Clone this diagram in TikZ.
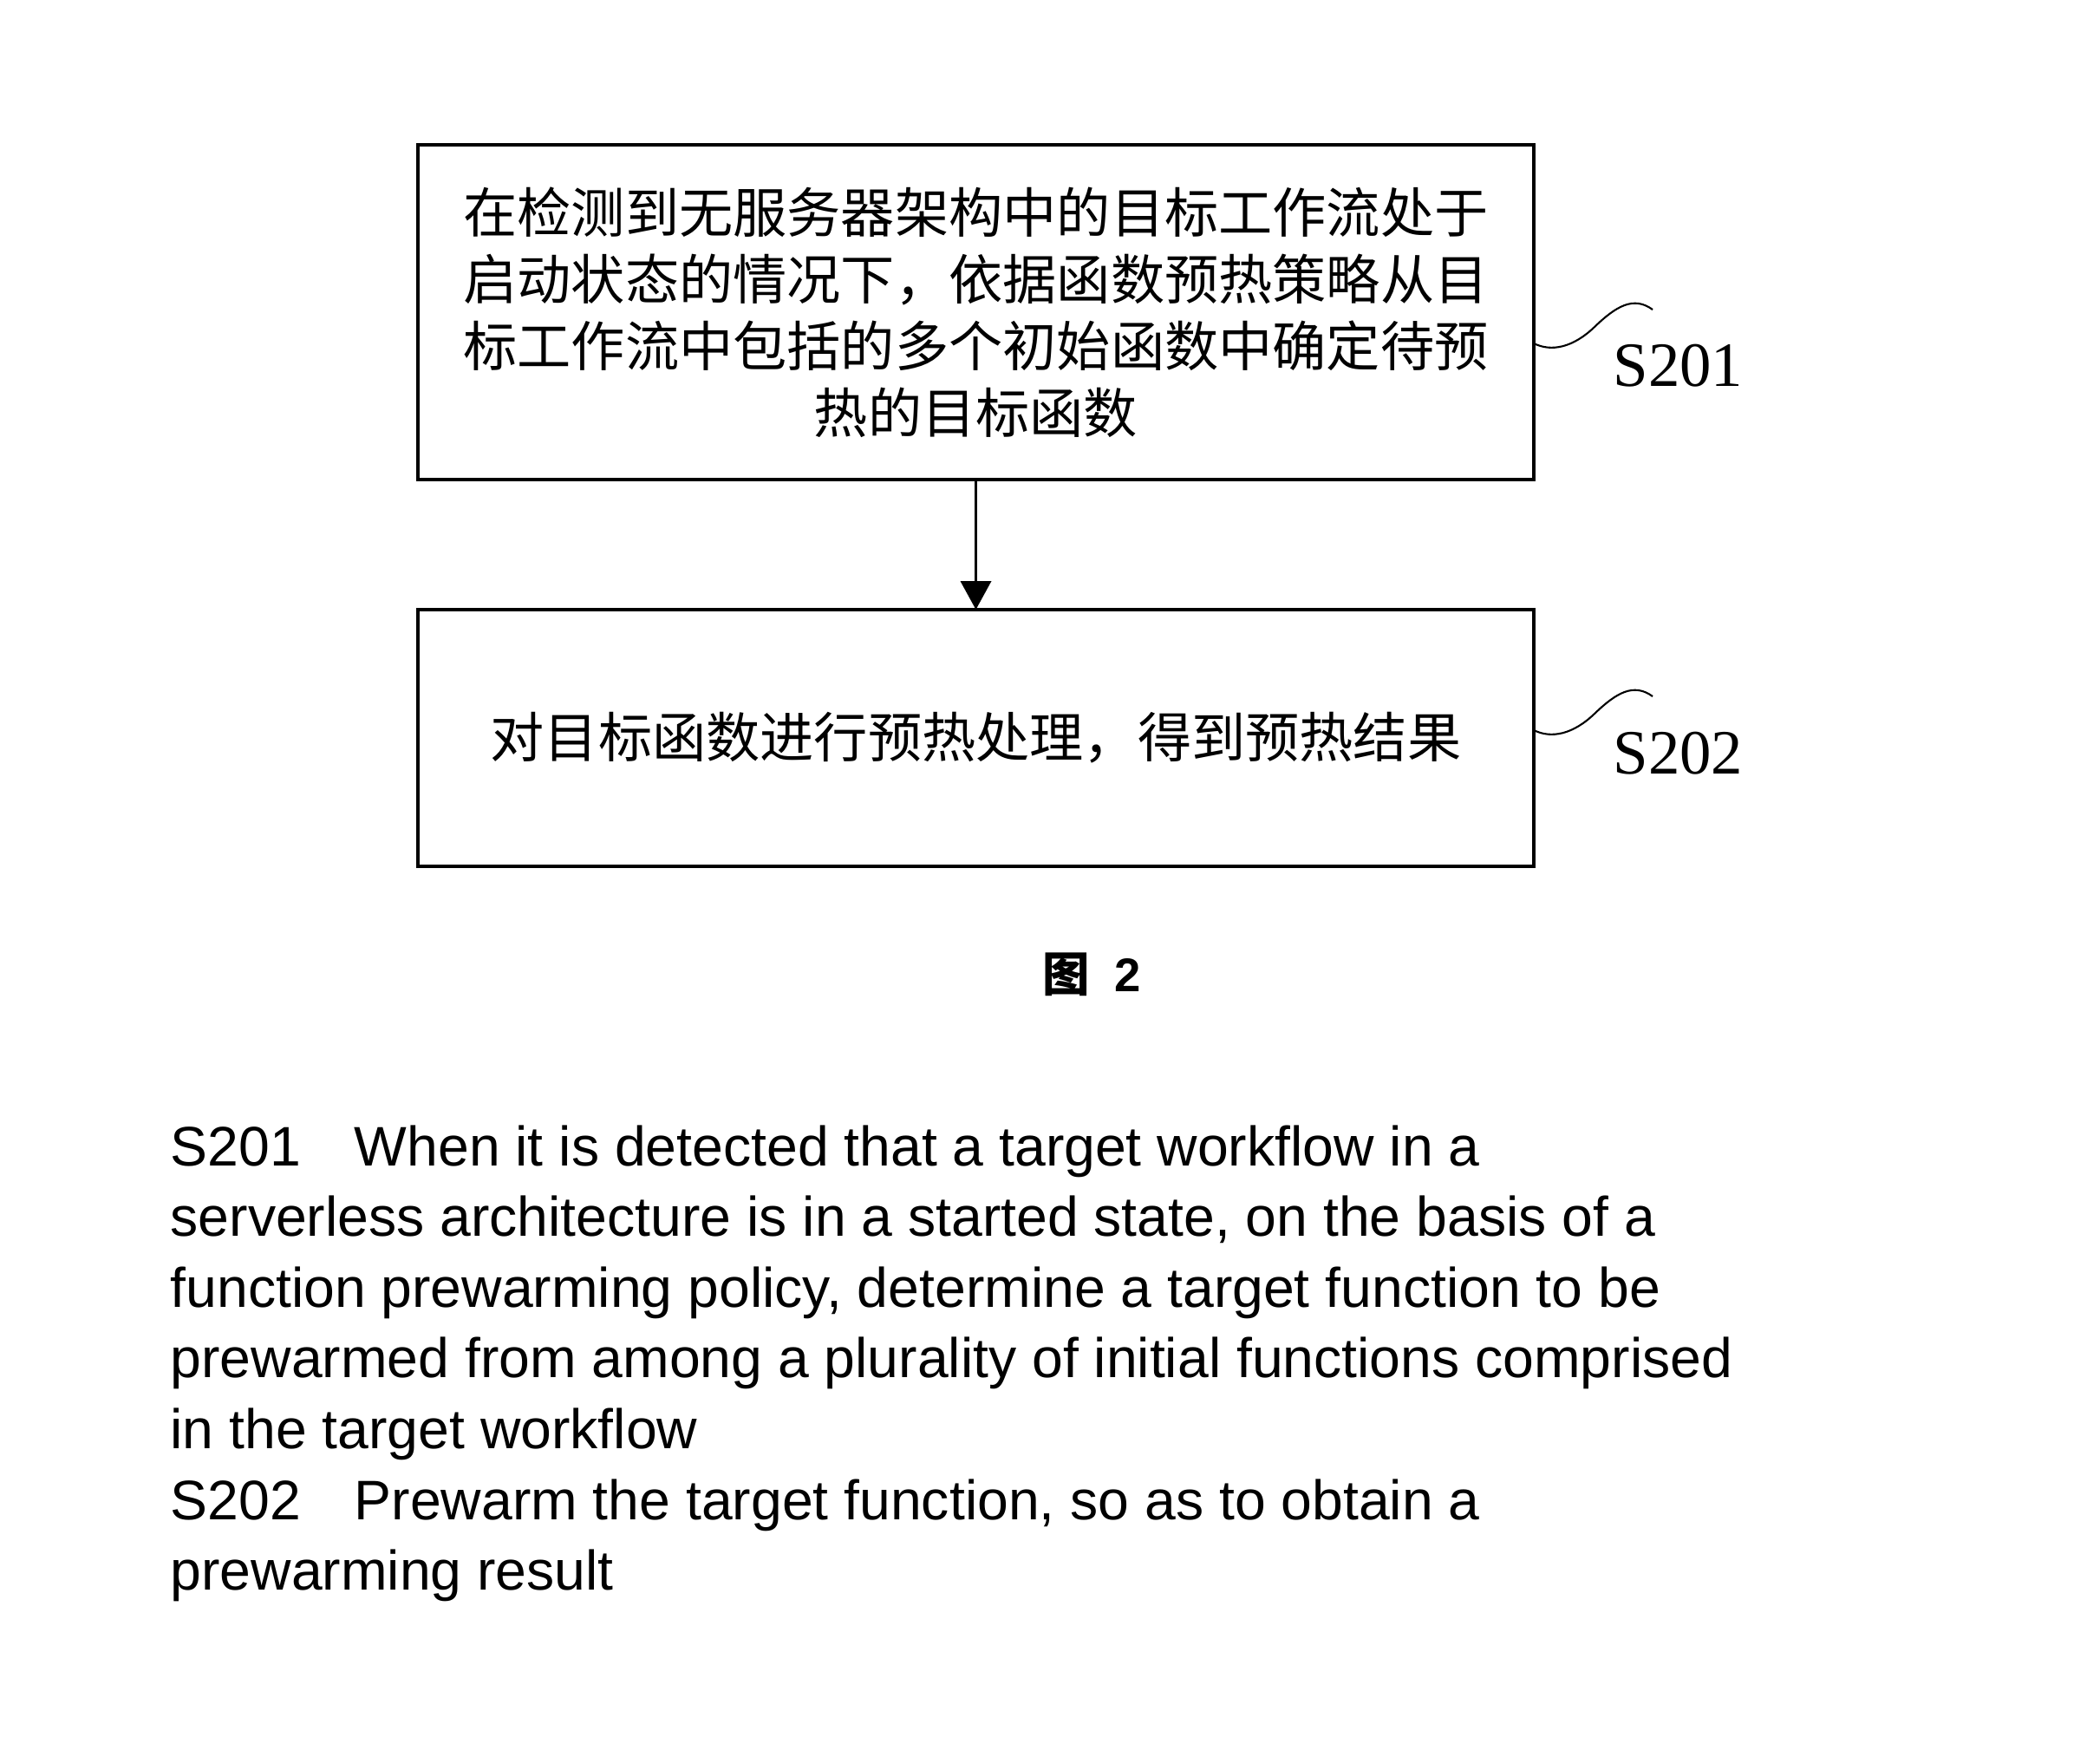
\documentclass[tikz,border=0pt]{standalone}
\usepackage{fontspec}
\setmainfont{Liberation Sans}
\newfontfamily\cjk{Noto Sans CJK SC}
\newfontfamily\serifnum{Liberation Serif}
\usetikzlibrary{arrows.meta}

\begin{document}
\begin{tikzpicture}[
    stepbox/.style={rectangle, draw=black, line width=0.9pt, minimum width=12.87cm, inner sep=0pt, outer sep=0pt, align=center, font=\cjk\fontsize{17.7}{21.9}\selectfont},
    steplabel/.style={anchor=base west, inner sep=0pt, font=\serifnum\fontsize{20.7}{24}\selectfont},
    squiggle/.style={line width=0.6pt},
    flow/.style={line width=1.1pt, -{Triangle[width=0.35cm,length=0.33cm]}}
]
\useasboundingbox (0,0) rectangle (24.22,-20.18);

% Flow chart boxes
\node[stepbox, minimum height=3.86cm] (detect) at (11.255,-3.60)
    {在检测到无服务器架构中的目标工作流处于\\启动状态的情况下，依据函数预热策略从目\\标工作流中包括的多个初始函数中确定待预\\热的目标函数};
\node[stepbox, minimum height=2.96cm] (prewarm) at (11.255,-8.51)
    {对目标函数进行预热处理，得到预热结果};
\draw[flow] (detect) -- (prewarm);

% Step labels
\node[steplabel] (labelA) at (18.60,-4.45) {S201};
\node[steplabel] (labelB) at (18.60,-8.92) {S202};
\draw[squiggle] ([yshift=-0.36cm]detect.east) .. controls +(0.2,-0.1) and +(-0.25,-0.24) .. ++(0.70,0.19)
    .. controls +(0.25,0.24) and +(-0.22,0.16) .. ++(0.67,0.20);
\draw[squiggle] ([yshift=0.09cm]prewarm.east) .. controls +(0.2,-0.1) and +(-0.25,-0.24) .. ++(0.70,0.19)
    .. controls +(0.25,0.24) and +(-0.22,0.16) .. ++(0.67,0.20);

% Caption
\node[font=\fontsize{15.5}{18}\selectfont\bfseries] (caption) at (12.59,-11.24) {\cjk 图\hspace{0.28cm}\rmfamily 2};

% Translation
\node[anchor=north west, align=left, inner sep=0pt, font=\fontsize{18.3}{23.2}\selectfont] (english) at (1.96,-12.97)
    {S201\hspace{0.62cm}When it is detected that a target workflow in a\\
     serverless architecture is in a started state, on the basis of a\\
     function prewarming policy, determine a target function to be\\
     prewarmed from among a plurality of initial functions comprised\\
     in the target workflow\\
     S202\hspace{0.62cm}Prewarm the target function, so as to obtain a\\
     prewarming result};
\end{tikzpicture}
\end{document}
